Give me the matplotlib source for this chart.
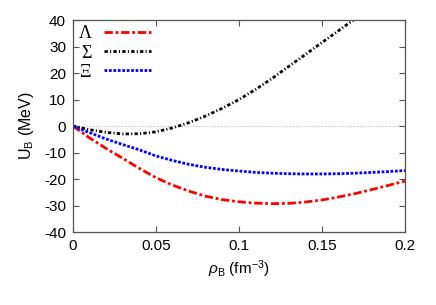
import numpy as np
import matplotlib
matplotlib.use("Agg")
import matplotlib.pyplot as plt

plt.rcParams['font.family'] = ['Liberation Sans', 'DejaVu Sans']
plt.rcParams['axes.unicode_minus'] = False
plt.rcParams['mathtext.fontset'] = 'custom'
plt.rcParams['mathtext.rm'] = 'Liberation Sans'
plt.rcParams['mathtext.it'] = 'Liberation Sans:italic'

# baryon density (fm^-3)
rho = [0.0, 0.01, 0.02, 0.03, 0.04, 0.05, 0.06, 0.07, 0.08, 0.09, 0.10,
       0.11, 0.12, 0.13, 0.14, 0.15, 0.16, 0.17, 0.18, 0.19, 0.20]
# single particle potentials (MeV)
u_lambda = [0.0, -4.5, -8.5, -12.2, -16.0, -19.5, -22.3, -24.6, -26.5, -27.8, -28.6,
            -29.1, -29.3, -29.2, -28.7, -27.9, -26.8, -25.5, -24.0, -22.4, -20.8]
u_sigma = [0.0, -1.4, -2.4, -3.0, -2.9, -2.2, -0.7, 1.3, 3.8, 6.7, 10.0,
           13.8, 18.0, 22.5, 27.0, 31.5, 36.0, 40.5, 45.5, 51.0, 57.0]
u_xi = [0.0, -2.5, -4.9, -7.0, -9.0, -11.3, -13.0, -14.5, -15.6, -16.4, -17.0,
        -17.5, -17.8, -18.0, -18.1, -18.1, -18.0, -17.8, -17.5, -17.2, -16.8]

xticks = [0, 0.05, 0.1, 0.15, 0.2]
xticklabels = ['0', '0.05', '0.1', '0.15', '0.2']
yticks = [-40, -30, -20, -10, 0, 10, 20, 30, 40]

fig = plt.figure(figsize=(4.36, 3.05), dpi=100)
ax = fig.add_axes([0.1674, 0.2393, 0.7615, 0.6951])

# zero reference line
ax.axhline(0, color='#bbbbbb', lw=0.8, ls=(0, (1, 1.5)), zorder=1)

ax.plot(rho, u_lambda, color='#ff0000', lw=2.0, ls=(0, (3, 1, 1, 1)), label='Λ')
ax.plot(rho, u_sigma, color='#000000', lw=2.0, ls=(0, (1.2, 0.8, 0.4, 0.8)), label='Σ')
ax.plot(rho, u_xi, color='#0000ff', lw=2.0, ls=(0, (1, 0.6)), label='Ξ')

ax.set_xlim(0, 0.2)
ax.set_ylim(-40, 40)
ax.set_xticks(xticks)
ax.set_xticklabels(xticklabels)
ax.set_yticks(yticks)
ax.tick_params(direction='in', top=True, right=True, length=4, width=0.8,
               color='#555555', labelsize=11, pad=5)
for s in ax.spines.values():
    s.set_color('#555555')
    s.set_linewidth(0.9)

ax.set_xlabel(r'$\rho_\mathrm{B}$ (fm$^{-3}$)', fontsize=11, labelpad=4)
ax.set_ylabel(r'U$_\mathrm{B}$ (MeV)', fontsize=11.5, labelpad=6)

ax.legend(loc='upper left', frameon=False, markerfirst=False, handlelength=2.6,
          handletextpad=0.7, labelspacing=0.12, borderaxespad=0.0,
          borderpad=0.3, prop={'family': 'Liberation Serif', 'size': 13})

fig.savefig('out.png', dpi=100)
